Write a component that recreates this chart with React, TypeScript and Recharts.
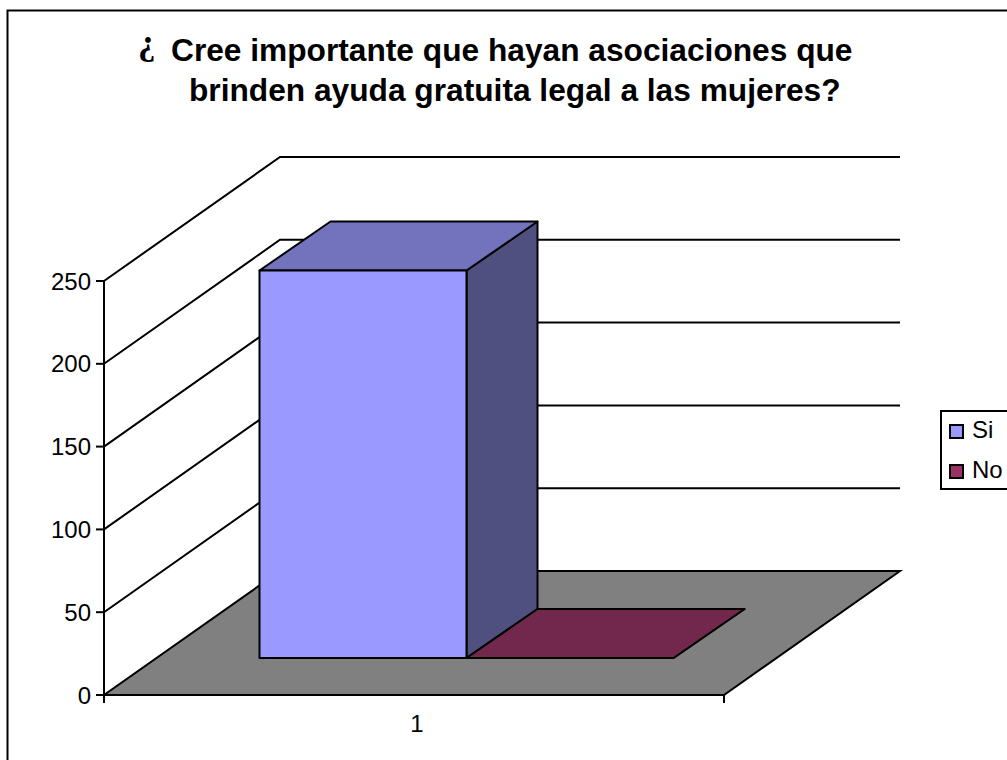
import React from 'react';
import { BarChart, Bar, XAxis, YAxis, CartesianGrid, Legend } from 'recharts';

const categories = ['1'];
const siValues = [234];
const noValues = [0];
const yTicks = [0, 50, 100, 150, 200, 250];

const rows = categories.map((name, i) => ({ name, Si: siValues[i], No: noValues[i] }));

const FONT = '"Liberation Sans", Arial, sans-serif';
const INK = '#000000';
const LINE = 2;

// oblique projection used by the walls, the floor and the prisms
const WALL_DX = 176;
const WALL_DY = 124;
const ROW_DX = 52.5;
const ROW_DY = 37;
const DEPTH_DX = 71;
const DEPTH_DY = 49;
const HALF_BAND = 310;
const FLOOR_Y = 695;

const poly = (...pts: number[][]) => pts.map((p) => p.join(',')).join(' ');

function WallLine(props: any) {
  const { x1, x2, y1, index } = props;
  const bx = x1 + WALL_DX;
  const by = y1 - WALL_DY;
  // the zero line is the floor, the others run up the side wall and across the back
  if (Math.abs(y1 - FLOOR_Y) < 1) {
    return (
      <polygon
        key={index}
        points={poly([x1, y1], [x2, y1], [x2 + WALL_DX, by], [bx, by])}
        fill="#808080"
        stroke={INK}
        strokeWidth={LINE}
      />
    );
  }
  return (
    <polyline
      key={index}
      points={poly([x1, y1], [bx, by], [x2 + WALL_DX, by])}
      fill="none"
      stroke={INK}
      strokeWidth={LINE}
    />
  );
}

function prism(front: string, top: string, side: string) {
  return function PrismBar(props: any) {
    const { x, y, width, height } = props;
    const l = x + ROW_DX;
    const r = l + width;
    const t = y - ROW_DY;
    const b = t + height;
    const edge = { stroke: INK, strokeWidth: LINE, strokeLinejoin: 'round' as const };
    return (
      <g>
        <polygon points={poly([r, t], [r + DEPTH_DX, t - DEPTH_DY], [r + DEPTH_DX, b - DEPTH_DY], [r, b])} fill={side} {...edge} />
        <polygon points={poly([l, t], [l + DEPTH_DX, t - DEPTH_DY], [r + DEPTH_DX, t - DEPTH_DY], [r, t])} fill={top} {...edge} />
        <rect x={l} y={t} width={width} height={height} fill={front} {...edge} />
      </g>
    );
  };
}

function CategoryTick(props: any) {
  const { x, y, payload } = props;
  return (
    <g>
      <line x1={x - HALF_BAND} x2={x - HALF_BAND} y1={y} y2={y + 8} stroke={INK} strokeWidth={LINE} />
      <line x1={x + HALF_BAND} x2={x + HALF_BAND} y1={y} y2={y + 8} stroke={INK} strokeWidth={LINE} />
      <text x={x + 3} y={y + 37} textAnchor="middle" fontFamily={FONT} fontSize={24} fill={INK}>
        {payload.value}
      </text>
    </g>
  );
}

function LegendBox(props: any) {
  const items = props.payload || [];
  return (
    <div
      style={{
        boxSizing: 'border-box',
        width: 67,
        height: 80,
        border: `2px solid ${INK}`,
        borderRight: 'none',
        background: '#fff',
        fontFamily: FONT,
        fontSize: 24,
        color: INK,
      }}
    >
      {items.map((item: any, i: number) => (
        <div key={item.value} style={{ position: 'absolute', left: 9, top: 7 + i * 40, height: 26, lineHeight: '26px', whiteSpace: 'nowrap' }}>
          <span
            style={{
              display: 'inline-block',
              boxSizing: 'border-box',
              width: 15,
              height: 15,
              marginRight: 8,
              border: `2px solid ${INK}`,
              background: item.color,
              verticalAlign: -1,
            }}
          />
          {item.value}
        </div>
      ))}
    </div>
  );
}

export default function App() {
  return (
    <div style={{ position: 'absolute', left: 0, top: 0, width: 1007, height: 760, overflow: 'hidden', background: '#fff' }}>
      <BarChart
        width={1007}
        height={760}
        data={rows}
        margin={{ top: 281, right: 283, bottom: 0, left: 0 }}
        barSize={207}
        barGap={0}
      >
        <rect x={7.5} y={10.5} width={1100} height={800} fill="none" stroke={INK} strokeWidth={2} />
        <text x={138} y={54} fontFamily='"Liberation Serif", serif' fontSize={35} fontWeight={700} fill={INK}>¿</text>
        <text fontFamily={FONT} fontSize={31.7} fontWeight={700} fill={INK}>
          <tspan x={171} y={61}>Cree importante que hayan asociaciones que</tspan>
          <tspan x={189} y={101}>brinden ayuda gratuita legal a las mujeres?</tspan>
        </text>
        <CartesianGrid horizontal={WallLine} vertical={false} />
        <XAxis
          dataKey="name"
          height={65}
          tickSize={0}
          tickMargin={0}
          tick={CategoryTick}
          axisLine={{ stroke: INK, strokeWidth: LINE }}
        />
        <YAxis
          width={104}
          domain={[0, 250]}
          ticks={yTicks}
          interval={0}
          tickSize={8}
          tickMargin={5}
          tick={{ fontFamily: FONT, fontSize: 24, fill: INK }}
          axisLine={{ stroke: INK, strokeWidth: LINE }}
          tickLine={{ stroke: INK, strokeWidth: LINE }}
        />
        <Legend
          layout="vertical"
          align="center"
          verticalAlign="middle"
          itemSorter={null}
          content={LegendBox}
          wrapperStyle={{ position: 'absolute', left: 940, top: 410, width: 67, height: 80 }}
        />
        <Bar dataKey="Si" fill="#9999FF" isAnimationActive={false} shape={prism('#9999FF', '#7373BD', '#4F4F80')} />
        <Bar dataKey="No" fill="#993366" isAnimationActive={false} shape={prism('#993366', '#72284C', '#4F1A35')} />
      </BarChart>
    </div>
  );
}
